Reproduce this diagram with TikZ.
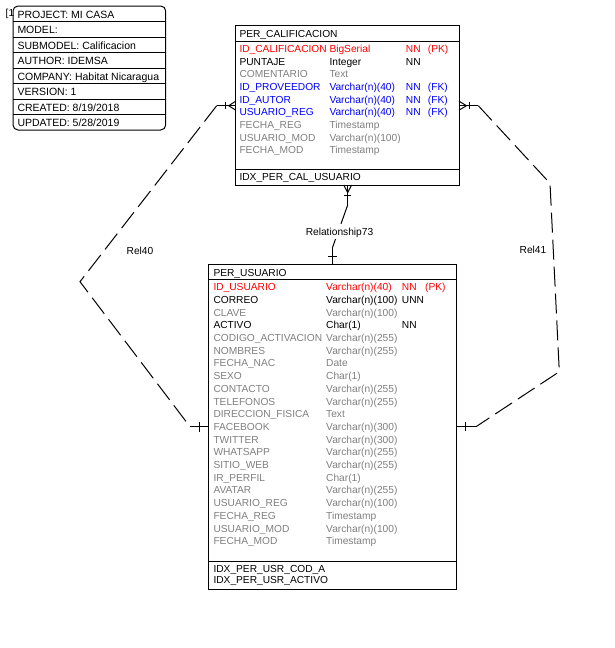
\documentclass[tikz,border=0pt]{standalone}
\usepackage{fontspec}
\setmainfont{Liberation Sans}
\usetikzlibrary{calc}
\definecolor{pkred}{RGB}{255,0,0}
\definecolor{fkblue}{RGB}{0,0,255}
\definecolor{attgray}{RGB}{128,128,128}
\tikzset{
  txt/.style={anchor=base west, inner sep=0pt, font=\fontsize{10.2}{12}\selectfont},
  tblbox/.style={draw, line width=1pt, fill=white, inner sep=0pt, outer sep=0pt, anchor=north west},
  sepline/.style={line width=1pt},
  rel/.style={line width=1pt, dash pattern=on 20pt off 7pt},
  relsolid/.style={line width=1pt},
  rellabel/.style={anchor=base, inner sep=1.5pt, font=\fontsize{10.2}{12}\selectfont},
}
\begin{document}
\begin{tikzpicture}[x=1pt,y=-1pt]
\useasboundingbox (0,0) rectangle (614,648);
\fill[white] (0,0) rectangle (614,648);

% ---------- info box ----------
\node[txt] (tag) at (5.5,16.8) {[1};
\node[draw, line width=1pt, rounded corners=5pt, minimum width=152.7pt, minimum height=124pt,
      anchor=north west, inner sep=0pt, outer sep=0pt] (info) at (13,6) {};
\foreach \y in {21.5,37,52.5,68,83.5,99,114.5}
  \draw[sepline] (info.west |- 0,\y) -- (info.east |- 0,\y);
\foreach [count=\i] \t in {PROJECT: MI CASA, MODEL:, SUBMODEL: Calificacion, AUTHOR: IDEMSA,
    COMPANY: Habitat Nicaragua, VERSION: 1, CREATED: 8/19/2018, UPDATED: 5/28/2019}
  \node[txt, font=\fontsize{10.5}{12}\selectfont] (info\i) at (17.3,{18.3+15.5*(\i-1)}) {\t};

% ---------- PER_CALIFICACION ----------
\node[tblbox, minimum width=223.3pt, minimum height=159.3pt] (cal) at (235.7,25.7) {};
\draw[sepline] (cal.west |- 0,41.7) -- (cal.east |- 0,41.7);
\draw[sepline] (cal.west |- 0,169) -- (cal.east |- 0,169);
\node[txt] (calhead) at (239.3,37.3) {PER\_CALIFICACION};
\foreach [count=\i] \c/\n/\t/\k/\p in {
    pkred/ID\_CALIFICACION/BigSerial/NN/(PK),
    black/PUNTAJE/Integer/NN/{},
    attgray/COMENTARIO/Text/{}/{},
    fkblue/ID\_PROVEEDOR/Varchar(n)(40)/NN/(FK),
    fkblue/ID\_AUTOR/Varchar(n)(40)/NN/(FK),
    fkblue/USUARIO\_REG/Varchar(n)(40)/NN/(FK),
    attgray/FECHA\_REG/Timestamp/{}/{},
    attgray/USUARIO\_MOD/Varchar(n)(100)/{}/{},
    attgray/FECHA\_MOD/Timestamp/{}/{}} {
  \node[txt, text=\c] (caln\i) at (239.3,{52.3+12.7*(\i-1)}) {\n};
  \node[txt, text=\c] (calt\i) at (329.3,{52.3+12.7*(\i-1)}) {\t};
  \node[txt, text=\c] (calk\i) at (405.7,{52.3+12.7*(\i-1)}) {\k};
  \node[txt, text=\c] (calp\i) at (427.7,{52.3+12.7*(\i-1)}) {\p};
}
\node[txt] (calidx) at (239.3,180) {IDX\_PER\_CAL\_USUARIO};

% ---------- PER_USUARIO ----------
\node[tblbox, minimum width=248.4pt, minimum height=325pt] (usr) at (208.3,264.3) {};
\draw[sepline] (usr.west |- 0,279.3) -- (usr.east |- 0,279.3);
\draw[sepline] (usr.west |- 0,561.7) -- (usr.east |- 0,561.7);
\node[txt] (usrhead) at (213.3,276) {PER\_USUARIO};
\foreach [count=\i] \c/\n/\t/\k/\p in {
    pkred/ID\_USUARIO/Varchar(n)(40)/NN/(PK),
    black/CORREO/Varchar(n)(100)/UNN/{},
    attgray/CLAVE/Varchar(n)(100)/{}/{},
    black/ACTIVO/Char(1)/NN/{},
    attgray/CODIGO\_ACTIVACION/Varchar(n)(255)/{}/{},
    attgray/NOMBRES/Varchar(n)(255)/{}/{},
    attgray/FECHA\_NAC/Date/{}/{},
    attgray/SEXO/Char(1)/{}/{},
    attgray/CONTACTO/Varchar(n)(255)/{}/{},
    attgray/TELEFONOS/Varchar(n)(255)/{}/{},
    attgray/DIRECCION\_FISICA/Text/{}/{},
    attgray/FACEBOOK/Varchar(n)(300)/{}/{},
    attgray/TWITTER/Varchar(n)(300)/{}/{},
    attgray/WHATSAPP/Varchar(n)(255)/{}/{},
    attgray/SITIO\_WEB/Varchar(n)(255)/{}/{},
    attgray/IR\_PERFIL/Char(1)/{}/{},
    attgray/AVATAR/Varchar(n)(255)/{}/{},
    attgray/USUARIO\_REG/Varchar(n)(100)/{}/{},
    attgray/FECHA\_REG/Timestamp/{}/{},
    attgray/USUARIO\_MOD/Varchar(n)(100)/{}/{},
    attgray/FECHA\_MOD/Timestamp/{}/{}} {
  \node[txt, text=\c] (usrn\i) at (213.3,{290.7+12.7*(\i-1)}) {\n};
  \node[txt, text=\c] (usrt\i) at (326,{290.7+12.7*(\i-1)}) {\t};
  \node[txt, text=\c] (usrk\i) at (401.7,{290.7+12.7*(\i-1)}) {\k};
  \node[txt, text=\c] (usrp\i) at (425,{290.7+12.7*(\i-1)}) {\p};
}
\node[txt] (usridxa) at (213.3,572.5) {IDX\_PER\_USR\_COD\_A};
\node[txt] (usridxb) at (213.3,583) {IDX\_PER\_USR\_ACTIVO};

% ---------- Rel40 ----------
\coordinate (r40a) at (cal.west |- 0,105.7);
\coordinate (r40b) at (216.7,105.7);
\coordinate (r40c) at (80,281.7);
\coordinate (r40d) at (190,426.7);
\coordinate (r40e) at (usr.west |- 0,426.7);
\draw[relsolid] (r40a) -- (r40b);
\draw[rel] (r40b) -- (r40c) -- (r40d);
\draw[relsolid] (r40d) -- (r40e);
\draw[relsolid] ($(r40a)+(0,-4.5)$) -- ($(r40a)+(-7,0)$) -- ($(r40a)+(0,4.5)$);
\draw[relsolid] ($(r40a)+(-10,-3.5)$) -- ($(r40a)+(-10,3.5)$);
\draw[relsolid] ($(r40e)+(-9,-5)$) -- ($(r40e)+(-9,5)$);
\node[rellabel] (rel40) at (140,254.3) {Rel40};

% ---------- Rel41 ----------
\coordinate (r41a) at (cal.east |- 0,105.7);
\coordinate (r41b) at (478.3,105.7);
\coordinate (r41c) at (550,183.3);
\coordinate (r41d) at (559.3,371.7);
\coordinate (r41e) at (476,426.7);
\coordinate (r41f) at (usr.east |- 0,426.7);
\draw[relsolid] (r41a) -- (r41b);
\draw[rel] (r41b) -- (r41c) -- (r41d) -- (r41e);
\draw[relsolid] (r41e) -- (r41f);
\draw[relsolid] ($(r41a)+(0,-4.5)$) -- ($(r41a)+(7.5,0)$) -- ($(r41a)+(0,4.5)$);
\draw[relsolid] ($(r41a)+(10,-3.5)$) -- ($(r41a)+(10,3.5)$);
\draw[relsolid] ($(r41f)+(9,-4.5)$) -- ($(r41f)+(9,4.5)$);
\node[rellabel] (rel41) at (533,253.3) {Rel41};

% ---------- Relationship73 ----------
\coordinate (r73a) at (cal.south -| 347.7,0);
\coordinate (r73b) at (347.7,205);
\coordinate (r73c) at (332.7,247);
\coordinate (r73d) at (usr.north -| 332.7,0);
\draw[relsolid] (r73a) -- (r73b);
\draw[rel] (r73b) -- (r73c);
\draw[relsolid] (r73c) -- (r73d);
\draw[relsolid] ($(r73a)+(-4,0)$) -- ($(r73a)+(0,7.5)$) -- ($(r73a)+(4,0)$);
\draw[relsolid] ($(r73a)+(-3.5,10)$) -- ($(r73a)+(3.5,10)$);
\draw[relsolid] ($(r73d)+(-4.5,-8)$) -- ($(r73d)+(4.5,-8)$);
\node[rellabel, fill=white] (rel73) at (339.5,235.7) {Relationship73};
\end{tikzpicture}
\end{document}
